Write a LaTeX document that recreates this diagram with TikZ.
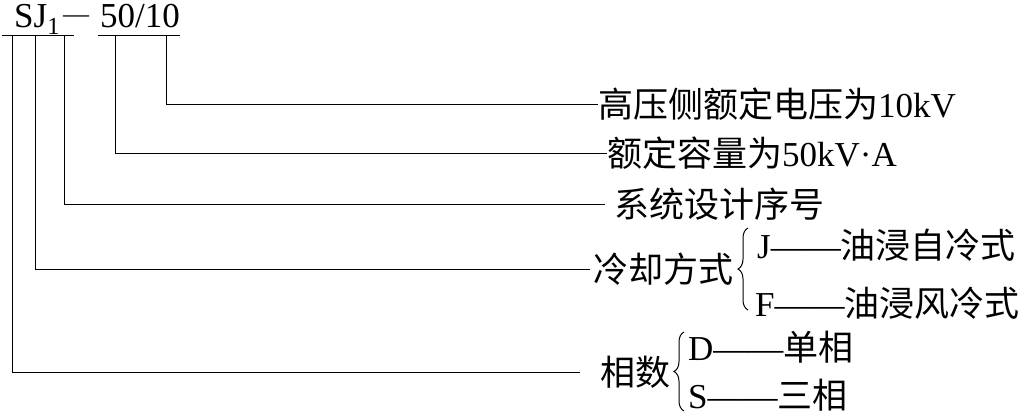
\documentclass[tikz,border=0pt]{standalone}
\usepackage{fontspec}
\setmainfont{Liberation Serif}
\newfontfamily\cjk{Noto Sans CJK SC}
\usetikzlibrary{decorations.pathreplacing}

\begin{document}
\begin{tikzpicture}[
      x=1pt, y=-1pt,
      texto/.style={anchor=west, inner sep=0pt, font=\fontsize{35}{40}\selectfont},
      linea/.style={draw=black, line width=1pt},
      llave/.style={draw=black, line width=1pt, decorate,
        decoration={brace, amplitude=10pt}},
    ]
    \useasboundingbox (0,0) rectangle (1026,416);

    % codigo del transformador
    \node[texto, anchor=base west] (sj)  at (14,27)
      {SJ\textsubscript{1}\kern3pt\raisebox{5pt}{\fontsize{26}{30}\selectfont —}};
    \node[texto, anchor=base west] (num) at (100,27) {50/10};

    \coordinate (s1) at (2,35);   \coordinate (s2) at (74,35);
    \coordinate (n1) at (98,35);  \coordinate (n2) at (180,35);
    \draw[linea] (s1) -- (s2);
    \draw[linea] (n1) -- (n2);

    \coordinate (t1) at (12,35);
    \coordinate (t2) at (35,35);
    \coordinate (t3) at (64,35);
    \coordinate (t4) at (115,35);
    \coordinate (t5) at (166,35);

    % significado de cada parte
    \node[texto] (tension) at (598,104) {{\cjk 高压侧额定电压为}10kV};
    \node[texto] (cap)     at (607,153) {{\cjk 额定容量为}50kV·A};
    \node[texto] (serie)   at (614,204) {\cjk 系统设计序号};
    \node[texto] (frio)    at (593,269) {\cjk 冷却方式};
    \node[texto] (frioJ)   at (757,245) {J——{\cjk 油浸自冷式}};
    \node[texto] (frioF)   at (755,303) {F——{\cjk 油浸风冷式}};
    \node[texto] (fases)   at (600,372) {\cjk 相数};
    \node[texto] (fasesD)  at (688,347) {D——{\cjk 单相}};
    \node[texto] (fasesS)  at (688,395) {S——{\cjk 三相}};

    \draw[linea] (t5) |- (tension.west);
    \draw[linea] (t4) |- (cap.west);
    \draw[linea] (t3) |- ([xshift=-9pt]serie.west);
    \draw[linea] (t2) |- ([xshift=-3pt]frio.west);
    \draw[linea] (t1) |- ([xshift=-20pt]fases.west);

    \coordinate (lf1) at (748,310); \coordinate (lf2) at (748,228);
    \coordinate (lh1) at (684,411); \coordinate (lh2) at (684,332);
    \draw[llave] (lf1) -- (lf2);
    \draw[llave] (lh1) -- (lh2);

  \end{tikzpicture}
\end{document}
